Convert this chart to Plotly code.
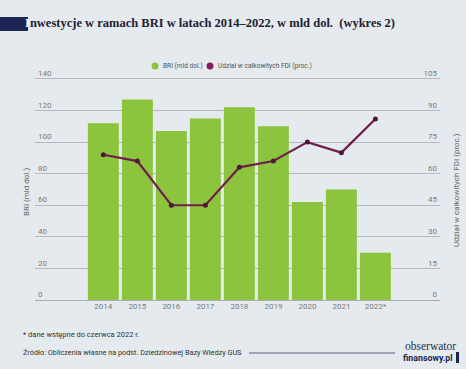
import plotly.graph_objects as go

years = ["2014", "2015", "2016", "2017", "2018", "2019", "2020", "2021", "2022*"]
bri_values = [112, 127, 107, 115, 122, 110, 62, 70, 30]
fdi_share = [69, 66, 45, 45, 63, 66, 75, 70, 86]
left_ticks = [0, 20, 40, 60, 80, 100, 120, 140]
right_ticks = [0, 15, 30, 45, 60, 75, 90, 105]
series_names = ["BRI (mld dol.)", "Udział w całkowitych FDI (proc.)"]

BG = "#e4eaee"
GREEN = "#8cc43e"
PURPLE = "#6f1f4c"
LEGEND_PURPLE = "#8a1d5f"
GRID = "#b5b9bd"
TICK = "#7a7a7a"
FONT = "Roboto"

W, H = 466, 369
Y0PX = 300
PXU = 221 / 140
TOP_VAL = 146.3
L, R = 35, 26
B = H - Y0PX
T = round(Y0PX - TOP_VAL * PXU)
pw = W - L - R
ph = H - T - B

def px_x(x):
    return (x - L) / pw

def px_y(y):
    return (H - B - y) / ph

fig = go.Figure()
fig.add_trace(go.Bar(
    x=years, y=bri_values, name=series_names[0],
    marker=dict(color=GREEN, line=dict(width=0)),
    showlegend=False, yaxis="y", hoverinfo="skip"))
fig.add_trace(go.Scatter(
    x=years, y=fdi_share, mode="lines+markers", yaxis="y2", name=series_names[1],
    line=dict(color=PURPLE, width=2.2),
    marker=dict(color="#4e1a38", size=5),
    showlegend=False))

fig.update_layout(
    width=W, height=H,
    margin=dict(l=L, r=R, t=T, b=B, pad=0),
    paper_bgcolor=BG, plot_bgcolor=BG,
    font=dict(family=FONT, size=8, color=TICK),
    bargap=0.09,
    showlegend=False,
    title=dict(
        text="<span style='color:#ffffff'>I</span>nwestycje w ramach BRI w latach 2014–2022, w mld dol.  (wykres 2)",
        x=25 / W, xanchor="left", xref="container",
        y=1 - 23 / H, yanchor="middle", yref="container",
        font=dict(family="Liberation Serif", size=12.5, color="#1e2233", weight="bold")),
    xaxis=dict(type="category", range=[-2.01, 9.9], showgrid=False, zeroline=False,
               showline=False, ticks="", tickfont=dict(size=8, color=TICK)),
    yaxis=dict(range=[0, TOP_VAL], tickvals=left_ticks, showgrid=True, gridcolor=GRID,
               gridwidth=1, zeroline=True, zerolinecolor="#a8acb0", zerolinewidth=1,
               ticklabelposition="inside top", ticks="", showline=False,
               tickfont=dict(size=8, color=TICK)),
    yaxis2=dict(range=[0, TOP_VAL * 105 / 140], tickvals=right_ticks, overlaying="y", side="right",
                showgrid=False, zeroline=False, ticklabelposition="inside top", ticks="",
                showline=False, tickfont=dict(size=8, color=TICK)),
)

# navy block at title start
fig.add_shape(type="rect", xref="paper", yref="paper",
              x0=px_x(0), x1=px_x(28), y0=px_y(31), y1=px_y(17),
              fillcolor="#1c2552", line=dict(width=0), layer="below")

# legend: dots + labels
for cx, col in [(155, GREEN), (210, LEGEND_PURPLE)]:
    fig.add_shape(type="circle", xref="paper", yref="paper",
                  x0=px_x(cx - 3.5), x1=px_x(cx + 3.5), y0=px_y(69.5), y1=px_y(62.5),
                  fillcolor=col, line=dict(width=0))

annots = [
    dict(text=series_names[0], x=px_x(161), y=px_y(66), xanchor="left",
         font=dict(size=6.6, color="#555555")),
    dict(text=series_names[1], x=px_x(216), y=px_y(66), xanchor="left",
         font=dict(size=6.6, color="#555555")),
    dict(text="BRI (mld dol.)", x=px_x(26), y=px_y(192), textangle=-90,
         font=dict(size=8, color="#666666")),
    dict(text="Udział w całkowitych FDI (proc.)", x=px_x(456), y=px_y(190), textangle=-90,
         font=dict(size=8, color="#666666")),
    dict(text="* dane wstępne do czerwca 2022 r.", x=px_x(21), y=px_y(334), xanchor="left",
         font=dict(size=7.5, color="#333333")),
    dict(text="Źródło: Obliczenia własne na podst. Dziedzinowej Bazy Wiedzy GUS", x=px_x(21),
         y=px_y(352), xanchor="left", font=dict(size=7.3, color="#333333")),
    dict(text="obserwator", x=px_x(458), y=px_y(346), xanchor="right",
         font=dict(family="Liberation Serif", size=11.5, color="#2a2f45")),
    dict(text="<b>finansowy.pl</b>", x=px_x(455), y=px_y(358), xanchor="right",
         font=dict(family=FONT, size=8.8, color="#1c2552")),
]
for a in annots:
    a.update(xref="paper", yref="paper", showarrow=False)
    a.setdefault("xanchor", "center")
    a.setdefault("yanchor", "middle")
    fig.add_annotation(**a)

fig.add_shape(type="line", xref="paper", yref="paper",
              x0=px_x(249), x1=px_x(395), y0=px_y(353), y1=px_y(353),
              line=dict(color="#5a607a", width=1.2))
fig.add_shape(type="rect", xref="paper", yref="paper",
              x0=px_x(456), x1=px_x(459), y0=px_y(363), y1=px_y(352),
              fillcolor="#1c2552", line=dict(width=0))

fig.write_html("out.html", config={"displayModeBar": False},
               post_script="document.body.style.margin='0';document.body.style.overflow='hidden';")
